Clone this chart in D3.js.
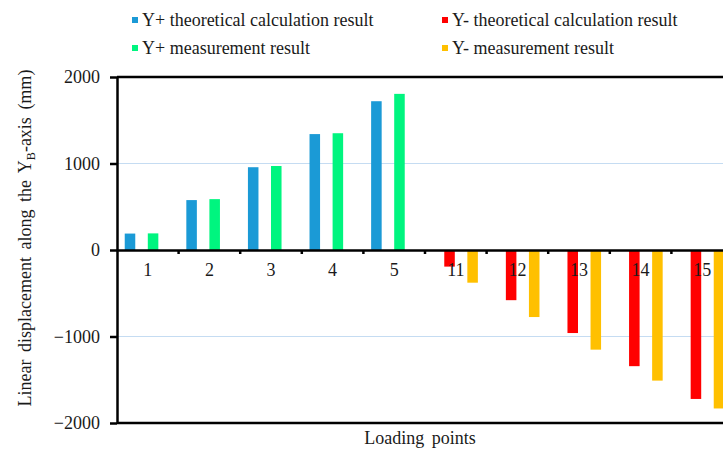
<!DOCTYPE html>
<html>
<head>
<meta charset="utf-8">
<script src="https://cdn.jsdelivr.net/npm/d3@7"></script>
<style>
  body { margin: 0; background: #fff; }
  text { font-family: "Liberation Serif", "Times New Roman", serif; }
</style>
</head>
<body>
<div id="chart"></div>
<script>
// Chart data
const categories = ["1", "2", "3", "4", "5", "11", "12", "13", "14", "15"];
const seriesNames = [
    "Y+ theoretical calculation result",
    "Y- theoretical calculation result",
    "Y+ measurement result",
    "Y- measurement result"
];
const seriesColors = ["#1b9ad6", "#ff0000", "#00f57f", "#ffc000"];
const yPlusTheory = [190, 577, 957, 1340, 1720, null, null, null, null, null];
const yMinusTheory = [null, null, null, null, null, -192, -580, -960, -1343, -1722];
const yPlusMeasured = [192, 588, 971, 1350, 1805, null, null, null, null, null];
const yMinusMeasured = [null, null, null, null, null, -378, -775, -1152, -1510, -1832];
const yTicks = [-2000, -1000, 0, 1000, 2000];
const gridTicks = [-1000, 1000];

const seriesValues = [yPlusTheory, yMinusTheory, yPlusMeasured, yMinusMeasured];

// Dimensions (plot runs past the right edge, as in the reference)
const width = 723, height = 450;
const plot = { left: 117, right: 733, top: 77, bottom: 423 };
const fontSize = 18;
const textColor = "#1a1a1a";

const svg = d3.select("#chart")
    .append("svg")
    .attr("width", width)
    .attr("height", height);

// Scales
const x0 = d3.scaleBand()
    .domain(categories)
    .range([plot.left, plot.right])
    .padding(0);

const x1 = d3.scaleBand()
    .domain(d3.range(seriesNames.length))
    .range([0, x0.bandwidth()])
    .paddingInner(0)
    .paddingOuter(0.67);

const y = d3.scaleLinear()
    .domain([-2000, 2000])
    .range([plot.bottom, plot.top]);

// Gridlines
svg.selectAll(".grid")
    .data(gridTicks)
    .enter().append("line")
    .attr("x1", plot.left)
    .attr("x2", plot.right)
    .attr("y1", d => y(d))
    .attr("y2", d => y(d))
    .attr("stroke", "#c5dcf2")
    .attr("stroke-width", 1.2);

// Bars
const bars = [];
seriesValues.forEach((vals, s) => {
    vals.forEach((v, i) => {
        if (v !== null) bars.push({ s: s, cat: categories[i], v: v });
    });
});

svg.selectAll(".bar")
    .data(bars)
    .enter().append("rect")
    .attr("x", d => x0(d.cat) + x1(d.s))
    .attr("width", x1.bandwidth() - 1)
    .attr("y", d => y(Math.max(0, d.v)))
    .attr("height", d => Math.abs(y(d.v) - y(0)))
    .attr("fill", d => seriesColors[d.s]);

// Top and bottom frame lines
svg.selectAll(".frame")
    .data([2000, -2000])
    .enter().append("line")
    .attr("x1", plot.left)
    .attr("x2", plot.right)
    .attr("y1", d => y(d))
    .attr("y2", d => y(d))
    .attr("stroke", "#000")
    .attr("stroke-width", 2.5);

// X axis at zero, with labels centred in each band
const xAxis = svg.append("g")
    .attr("transform", `translate(0,${y(0)})`)
    .attr("font-family", "'Liberation Serif', serif")
    .call(d3.axisBottom(x0).tickSize(0).tickPadding(13));
xAxis.select(".domain")
    .attr("stroke-width", 2.5);
xAxis.selectAll("text")
    .attr("font-size", fontSize)
    .attr("fill", textColor);

// Tick marks at band boundaries
svg.selectAll(".xtick")
    .data(categories.slice(1))
    .enter().append("line")
    .attr("x1", d => x0(d))
    .attr("x2", d => x0(d))
    .attr("y1", y(0))
    .attr("y2", y(0) + 4)
    .attr("stroke", "#000")
    .attr("stroke-width", 2.5);

// Y axis
const yAxis = svg.append("g")
    .attr("transform", `translate(${plot.left},0)`)
    .attr("font-family", "'Liberation Serif', serif")
    .call(d3.axisLeft(y)
        .tickValues(yTicks)
        .tickFormat(d3.format("d"))
        .tickSize(7)
        .tickSizeOuter(0)
        .tickPadding(10));
yAxis.select(".domain").attr("stroke-width", 2.5);
yAxis.selectAll(".tick line").attr("stroke-width", 2.5);
yAxis.selectAll("text")
    .attr("font-size", fontSize)
    .attr("fill", textColor);

// Y axis title
const yTitle = svg.append("text")
    .attr("transform", "rotate(-90)")
    .attr("x", -238)
    .attr("y", 31)
    .attr("text-anchor", "middle")
    .attr("font-size", fontSize)
    .attr("fill", textColor)
    .style("word-spacing", "3px");
yTitle.append("tspan").text("Linear displacement along the Y");
yTitle.append("tspan").attr("font-size", 12).attr("dy", 4).text("B");
yTitle.append("tspan").attr("dy", -4).text("-axis (mm)");

// X axis title
svg.append("text")
    .attr("x", 420)
    .attr("y", 444)
    .attr("text-anchor", "middle")
    .attr("font-size", fontSize)
    .attr("fill", textColor)
    .style("word-spacing", "3px")
    .text("Loading points");

// Legend (two columns, two rows)
const legendPos = [
    { x: 132, y: 20 }, { x: 442, y: 20 },
    { x: 132, y: 48 }, { x: 442, y: 48 }
];
const legend = svg.selectAll(".legend")
    .data(d3.range(seriesNames.length))
    .enter().append("g")
    .attr("class", "legend")
    .attr("transform", (d, i) => `translate(${legendPos[i].x},${legendPos[i].y})`);

legend.append("rect")
    .attr("x", 0)
    .attr("y", -3)
    .attr("width", 6)
    .attr("height", 6)
    .attr("fill", d => seriesColors[d]);

legend.append("text")
    .attr("x", 10)
    .attr("y", 0)
    .attr("dy", "0.35em")
    .attr("font-size", fontSize)
    .attr("fill", textColor)
    .text(d => seriesNames[d]);
</script>
</body>
</html>
